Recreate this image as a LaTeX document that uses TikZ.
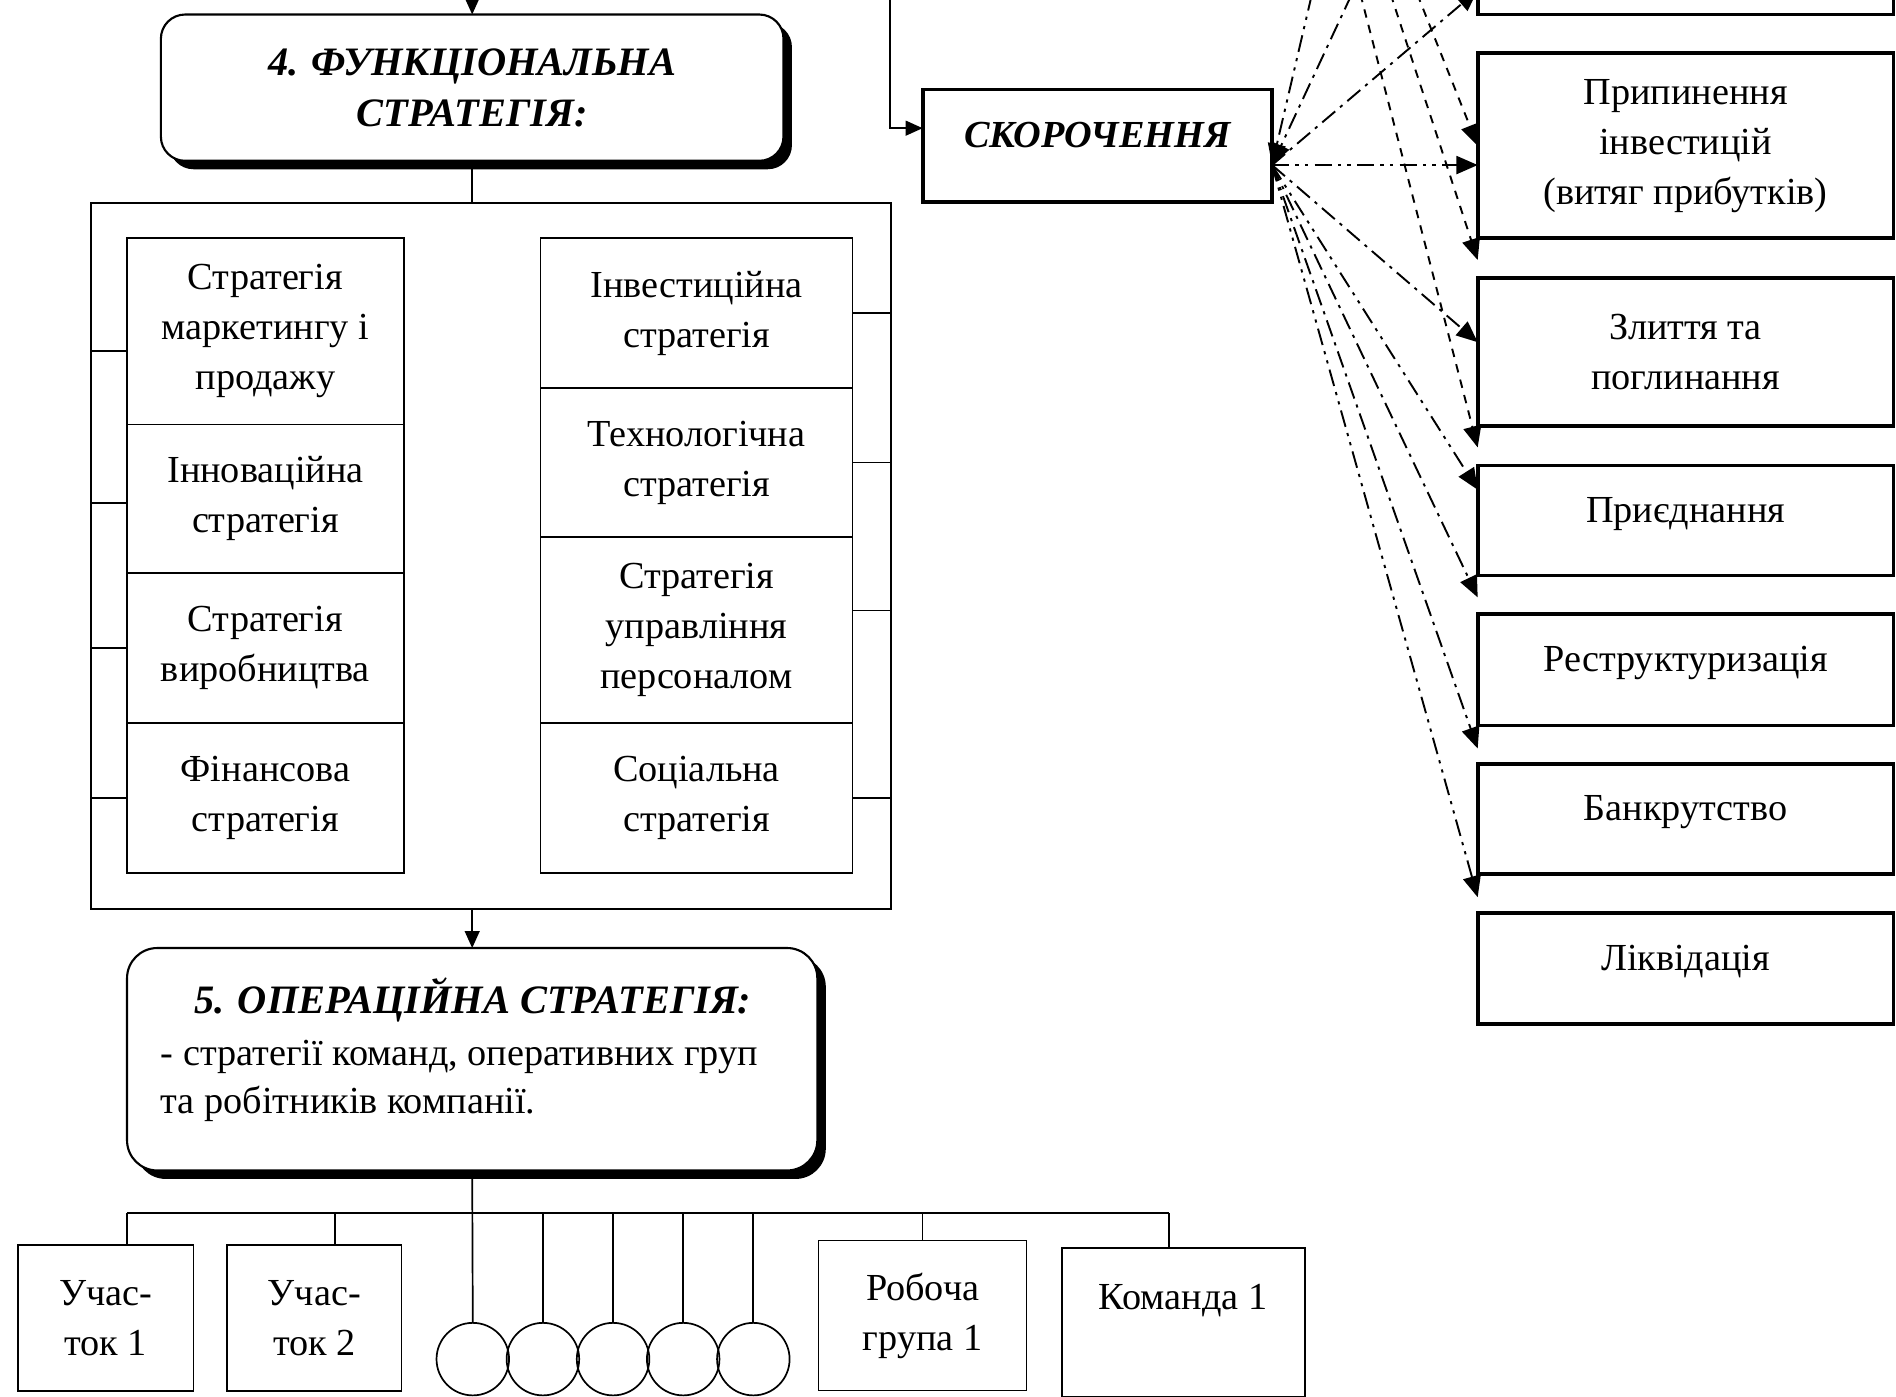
\documentclass[tikz,border=0pt]{standalone}
\usepackage{fontspec}
\setmainfont{Liberation Serif}
\usetikzlibrary{arrows.meta,shadows,calc}
\begin{document}
\begin{tikzpicture}[x=0.02cm,y=-0.02cm,
  every node/.style={inner sep=0pt, outer sep=0pt},
  txt/.style={font=\fontsize{18}{23.5}\selectfont, align=center},
  hdr/.style={font=\fontsize{19}{24}\selectfont\bfseries\itshape, align=center},
  ln/.style={line width=0.8pt},
  cell/.style={draw, line width=0.8pt, txt},
  rbox/.style={draw, line width=1.8pt, txt, minimum width=6.88cm},
  shadowbox/.style={draw, line width=1pt, fill=white, rounded corners=0.4cm,
      drop shadow={shadow xshift=0.14cm, shadow yshift=-0.14cm, fill=black, opacity=1}},
  arr/.style={ln, -{Triangle[length=8pt,width=7pt]}},
  tip/.style={-{Triangle[length=10pt,width=8.5pt]}},
  dd/.style={line width=0.9pt, dash pattern=on 8pt off 3pt on 1.5pt off 3pt, tip},
  ddd/.style={line width=0.9pt, dash pattern=on 8pt off 3pt on 1.5pt off 3pt on 1.5pt off 3pt, tip},
  sd/.style={line width=0.9pt, dash pattern=on 4pt off 3.5pt, tip},
  onetext/.style={text height=0.7em, text depth=0.54em},
]
\useasboundingbox (0,0) rectangle (1568,1155);
\clip (0,0) rectangle (1568,1155);

% ---------- functional strategy ----------
\node[shadowbox, hdr, minimum width=10.3cm, minimum height=2.42cm] (b4) at (390.5,72.5) {4. ФУНКЦІОНАЛЬНА\\СТРАТЕГІЯ:};
\node[draw, ln, minimum width=13.24cm, minimum height=11.68cm] (cont) at (406,460) {};

\node[cell, minimum width=4.58cm, minimum height=3.08cm] (l1) at (219.5,274) {Стратегія\\маркетингу і\\продажу};
\node[cell, minimum width=4.58cm, minimum height=2.46cm] (l2) at (219.5,412.5) {Інноваційна\\стратегія};
\node[cell, minimum width=4.58cm, minimum height=2.48cm] (l3) at (219.5,536) {Стратегія\\виробництва};
\node[cell, minimum width=4.58cm, minimum height=2.48cm] (l4) at (219.5,660) {Фінансова\\стратегія};

\node[cell, minimum width=5.16cm, minimum height=2.48cm] (r1) at (576,259) {Інвестиційна\\стратегія};
\node[cell, minimum width=5.16cm, minimum height=2.46cm] (r2) at (576,382.5) {Технологічна\\стратегія};
\node[cell, minimum width=5.16cm, minimum height=3.08cm] (r3) at (576,521) {Стратегія\\управління\\персоналом};
\node[cell, minimum width=5.16cm, minimum height=2.48cm] (r4) at (576,660) {Соціальна\\стратегія};

\coordinate (s1) at ([yshift=-0.32cm]l1.west);
\coordinate (s2) at ([yshift=-0.07cm]l2.west);
\draw[ln] (s1) -- (s1 -| cont.west);
\draw[ln] (s2) -- (s2 -| cont.west);
\draw[ln] (l3.west) -- (l3.west -| cont.west);
\draw[ln] (l4.west) -- (l4.west -| cont.west);
\coordinate (s7) at ([yshift=0.32cm]r3.east);
\draw[ln] (r1.east) -- (r1.east -| cont.east);
\draw[ln] (r2.east) -- (r2.east -| cont.east);
\draw[ln] (s7) -- (s7 -| cont.east);
\draw[ln] (r4.east) -- (r4.east -| cont.east);

\draw[arr] ([yshift=0.4cm]b4.north) -- (b4.north);
\draw[ln] (b4.south) -- (b4.south |- cont.north);

% ---------- operational strategy ----------
\node[shadowbox, rounded corners=0.5cm, minimum width=11.42cm, minimum height=3.68cm] (b5) at (390.5,876) {};
\node[hdr] (b5h) at (391,827) {5. ОПЕРАЦІЙНА СТРАТЕГІЯ:};
\node[font=\fontsize{18}{22.7}\selectfont, align=left, anchor=west] (b5t) at (133,894) {- стратегії команд, оперативних груп\\та робітників компанії.};
\draw[arr] (b5.north |- cont.south) -- (b5.north);

\node[cell, minimum width=2.9cm, minimum height=2.42cm] (u1) at (87.5,1090) {Учас-\\ток 1};
\node[cell, minimum width=2.88cm, minimum height=2.42cm] (u2) at (260,1090) {Учас-\\ток 2};
\foreach \i/\x in {1/391,2/449,3/507,4/565,5/623}
  \node[draw, ln, circle, minimum size=1.2cm] (c\i) at (\x,1124) {};
\node[cell, minimum width=3.44cm, minimum height=2.48cm] (w1) at (763,1088) {Робоча\\група 1};
\node[cell, minimum width=4.02cm, minimum height=2.46cm, text height=0.7em, text depth=1.9em] (k1) at (978.5,1093.5) {Команда 1};

\coordinate (bus) at (391,1003);
\coordinate (d1) at ([xshift=0.35cm]u1.north);
\coordinate (d2) at ([xshift=0.34cm]u2.north);
\coordinate (d7) at ([xshift=-0.23cm]k1.north);
\draw[ln] (b5.south) -- (c1.north);
\draw[ln] (d1 |- bus) -- (d7 |- bus);
\draw[ln] (d1) -- (d1 |- bus);
\draw[ln] (d2) -- (d2 |- bus);
\foreach \c in {c2,c3,c4,c5} \draw[ln] (\c.north) -- (\c.north |- bus);
\draw[ln] (w1.north) -- (w1.north |- bus);
\draw[ln] (d7) -- (d7 |- bus);

% ---------- reduction ----------
\node[draw, line width=1.8pt, minimum width=5.78cm, minimum height=1.86cm, font=\fontsize{18}{22}\selectfont\bfseries\itshape, onetext] (sk) at (907.5,120.5) {СКОРОЧЕННЯ};
\coordinate (feed) at (736,-5);
\coordinate (skin) at ([yshift=0.29cm]sk.west);
\draw[arr] (feed) |- (skin);

\node[rbox, minimum height=2cm] (p0) at (1394,-38) {};
\node[rbox, minimum height=3.06cm] (p1) at (1394,120.5) {Припинення\\інвестицій\\(витяг прибутків)};
\node[rbox, minimum height=2.44cm] (p2) at (1394,291) {Злиття та\\поглинання};
\node[rbox, minimum height=1.82cm, onetext] (p3) at (1394,430.5) {Приєднання};
\node[rbox, minimum height=1.84cm, onetext] (p4) at (1394,554) {Реструктуризація};
\node[rbox, minimum height=1.82cm, onetext] (p5) at (1394,677.5) {Банкрутство};
\node[rbox, minimum height=1.84cm, onetext] (p6) at (1394,801) {Ліквідація};

\coordinate (o) at ([yshift=-0.32cm]sk.east);
\coordinate (up1) at (1085,-5);
\coordinate (up2) at (1118,-5);
\coordinate (t1) at (1172,-5);
\coordinate (t2) at (1150,-5);
\coordinate (t3) at (1125,-5);

\draw[ddd] (o) -- (o -| p1.west);
\draw[dd] (o) -- ($(p0.south west)+(0,-20)$);
\draw[ddd] (up1) -- (o);
\draw[dd] (up2) -- (o);
\draw[dd] (o) -- ($(p2.west)+(0,-8)$);
\draw[ddd] (o) -- ($(p3.north west)+(0,20)$);
\draw[dd] (o) -- ($(p4.north west)+(0,-14)$);
\draw[dd] (o) -- ($(p5.north west)+(0,-13)$);
\draw[ddd] (o) -- ($(p6.north west)+(0,-13)$);
\draw[sd] (t1) -- (p1.west);
\draw[sd] (t2) -- ($(p2.north west)+(0,-15)$);
\draw[sd] (t3) -- ($(p3.north west)+(0,-15)$);
\end{tikzpicture}
\end{document}
